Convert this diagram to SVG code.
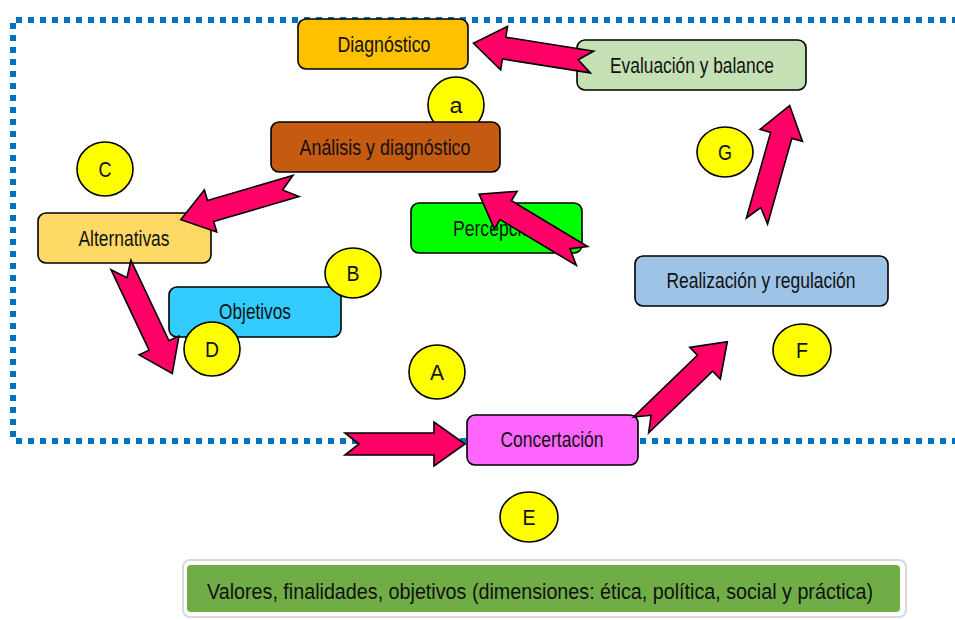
<svg xmlns="http://www.w3.org/2000/svg" xmlns:xlink="http://www.w3.org/1999/xlink" width="955" height="620" viewBox="0 0 955 620">
<style>
.box{stroke:#000;stroke-width:1.6}
.lbl{font-family:"Liberation Sans",Arial,sans-serif;font-size:22px;fill:#111;text-anchor:middle}
.cir{fill:#FFFF00;stroke:#000;stroke-width:1.6}
.let{font-family:"Liberation Sans",Arial,sans-serif;font-size:22px;fill:#111;text-anchor:middle}
.dot{stroke:#0070C0;stroke-width:6;stroke-dasharray:6 6;fill:none}
.arr{fill:#FF0066;stroke:#000;stroke-width:1.6;stroke-linejoin:miter}
</style>
<defs>
<path id="ar" d="M0,-11 L89,-11 L89,-22 L120,0 L89,22 L89,11 L0,11 L14,0 Z"/>
</defs>
<rect width="955" height="620" fill="#fff"/>
<g id="frame">
<line class="dot" x1="16" y1="20" x2="955" y2="20"/>
<line class="dot" x1="13" y1="23" x2="13" y2="437"/>
<line class="dot" x1="16" y1="441" x2="955" y2="441"/>
</g>
<g id="circle-a"><ellipse class="cir" cx="456" cy="105" rx="28" ry="28"/><text class="let" x="456" y="113" textLength="13" lengthAdjust="spacingAndGlyphs">a</text></g>
<g id="diagnostico"><rect class="box" x="298" y="19" width="170" height="50" rx="8" fill="#FFC000"/><text class="lbl" x="384" y="52" textLength="93" lengthAdjust="spacingAndGlyphs">Diagnóstico</text></g>
<g id="evaluacion"><rect class="box" x="577" y="40" width="229" height="50" rx="8" fill="#C5E0B4"/><text class="lbl" x="692" y="73" textLength="164" lengthAdjust="spacingAndGlyphs">Evaluación y balance</text></g>
<g id="analisis"><rect class="box" x="271" y="122" width="229" height="50" rx="8" fill="#C55A11"/><text class="lbl" x="385" y="155" textLength="171" lengthAdjust="spacingAndGlyphs">Análisis  y diagnóstico</text></g>
<g id="circle-c"><ellipse class="cir" cx="105" cy="169" rx="28" ry="27"/><text class="let" x="105" y="177" textLength="13" lengthAdjust="spacingAndGlyphs">C</text></g>
<g id="alternativas"><rect class="box" x="38" y="213" width="173" height="50" rx="8" fill="#FFD966"/><text class="lbl" x="124" y="246" textLength="91" lengthAdjust="spacingAndGlyphs">Alternativas</text></g>
<g id="percepcion"><rect class="box" x="411" y="203" width="171" height="50" rx="8" fill="#00FF00"/><text class="lbl" x="497" y="236" textLength="88" lengthAdjust="spacingAndGlyphs">Percepción</text></g>
<g id="objetivos"><rect class="box" x="169" y="287" width="172" height="50" rx="8" fill="#33CCFF"/><text class="lbl" x="255" y="319" textLength="72" lengthAdjust="spacingAndGlyphs">Objetivos</text></g>
<g id="circle-b"><ellipse class="cir" cx="353" cy="273" rx="28" ry="25"/><text class="let" x="353" y="281" textLength="13" lengthAdjust="spacingAndGlyphs">B</text></g>
<g id="circle-d"><ellipse class="cir" cx="212" cy="349" rx="28" ry="27"/><text class="let" x="212" y="357" textLength="14" lengthAdjust="spacingAndGlyphs">D</text></g>
<g id="circle-a2"><ellipse class="cir" cx="437" cy="372" rx="28" ry="27"/><text class="let" x="437" y="380" textLength="14" lengthAdjust="spacingAndGlyphs">A</text></g>
<g id="realizacion"><rect class="box" x="635" y="256" width="253" height="50" rx="8" fill="#9DC3E6"/><text class="lbl" x="761" y="288" textLength="189" lengthAdjust="spacingAndGlyphs">Realización y regulación</text></g>
<g id="circle-g"><ellipse class="cir" cx="725" cy="152" rx="28" ry="25"/><text class="let" x="725" y="160" textLength="14" lengthAdjust="spacingAndGlyphs">G</text></g>
<g id="circle-f"><ellipse class="cir" cx="802" cy="350" rx="29" ry="26"/><text class="let" x="802" y="358" textLength="12" lengthAdjust="spacingAndGlyphs">F</text></g>
<g id="concertacion"><rect class="box" x="467" y="415" width="171" height="50" rx="8" fill="#FF66FF"/><text class="lbl" x="552" y="447" textLength="103" lengthAdjust="spacingAndGlyphs">Concertación</text></g>
<g id="circle-e"><ellipse class="cir" cx="529" cy="517" rx="29" ry="25"/><text class="let" x="529" y="525" textLength="13" lengthAdjust="spacingAndGlyphs">E</text></g>
<g id="valores"><rect x="183" y="560" width="723" height="57" rx="7" fill="#fff" stroke="#d9d9d9" stroke-width="2"/><rect x="187" y="565" width="713" height="47" rx="4" fill="#70AD47"/><text class="lbl" x="540" y="599" textLength="666" lengthAdjust="spacingAndGlyphs">Valores, finalidades, objetivos (dimensiones: ética, política, social y práctica)</text></g>
<g id="connectors">
<use xlink:href="#ar" class="arr" transform="translate(592,62) rotate(189)"/>
<use xlink:href="#ar" class="arr" transform="translate(296,186) rotate(163.7)"/>
<use xlink:href="#ar" class="arr" transform="translate(121,265) rotate(64.7)"/>
<use xlink:href="#ar" class="arr" transform="translate(582,256) rotate(211)"/>
<use xlink:href="#ar" class="arr" transform="translate(757,221) rotate(-74.2)"/>
<use xlink:href="#ar" class="arr" transform="translate(641,425) rotate(-44)"/>
<use xlink:href="#ar" class="arr" transform="translate(345,444)"/>
</g>
</svg>
